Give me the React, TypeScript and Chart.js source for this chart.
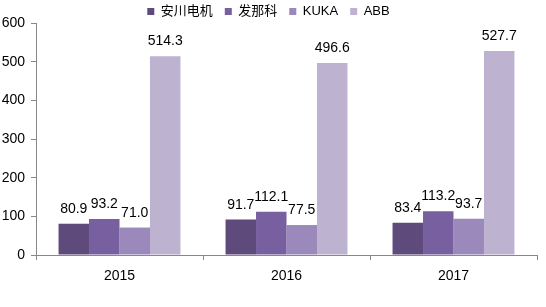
import React, { useEffect, useRef } from "react";
import { Chart, registerables } from "chart.js";

Chart.register(...registerables);

const categories = ["2015", "2016", "2017"];
const seriesNames = ["安川电机", "发那科", "KUKA", "ABB"];
const yaskawa = [80.9, 91.7, 83.4];
const fanuc = [93.2, 112.1, 113.2];
const kuka = [71.0, 77.5, 93.7];
const abb = [514.3, 496.6, 527.7];
const seriesColors = ["#5f4a7c", "#7860a0", "#9a89ba", "#bdb2cf"];
const yTicks = [0, 100, 200, 300, 400, 500, 600];

const FONT = "'Liberation Sans', 'Noto Sans CJK SC', sans-serif";

const labelPlugin = {
  id: "barLabels",
  afterDatasetsDraw(chart: any) {
    const ctx = chart.ctx;
    ctx.save();
    ctx.font = `14px ${FONT}`;
    ctx.fillStyle = "#000";
    ctx.textAlign = "center";
    ctx.textBaseline = "alphabetic";
    chart.data.datasets.forEach((ds: any, di: number) => {
      const meta = chart.getDatasetMeta(di);
      meta.data.forEach((bar: any, i: number) => {
        ctx.fillText(Number(ds.data[i]).toFixed(1), bar.x, bar.y - 11);
      });
    });
    ctx.restore();
  },
};

export default function App() {
  const ref = useRef<HTMLCanvasElement>(null);
  useEffect(() => {
    document.body.style.margin = "0";
    const values = [yaskawa, fanuc, kuka, abb];
    const chart = new Chart(ref.current!, {
      type: "bar",
      data: {
        labels: categories,
        datasets: seriesNames.map((n, i) => ({
          label: n,
          data: values[i],
          backgroundColor: seriesColors[i],
          borderWidth: 0,
          categoryPercentage: 0.73,
          barPercentage: 1,
        })),
      },
      options: {
        animation: false,
        responsive: false,
        maintainAspectRatio: false,
        layout: { padding: { top: -7, right: 9, bottom: 0, left: 0 } },
        plugins: {
          tooltip: { enabled: false },
          legend: {
            position: "top",
            maxHeight: 30,
            labels: {
              boxWidth: 7,
              boxHeight: 7,
              padding: 12,
              color: "#000",
              font: { size: 13, family: FONT },
            },
          },
        },
        scales: {
          x: {
            grid: {
              display: true,
              drawOnChartArea: false,
              tickLength: 5,
              color: "#888",
            },
            border: { color: "#888" },
            ticks: { color: "#000", padding: 8, font: { size: 14, family: FONT } },
            afterFit: (s: any) => {
              s.height = 52;
            },
          },
          y: {
            min: 0,
            max: 600,
            afterBuildTicks: (s: any) => {
              s.ticks = yTicks.map((v) => ({ value: v }));
            },
            grid: {
              display: true,
              drawOnChartArea: false,
              tickLength: 5,
              color: "#888",
            },
            border: { color: "#888" },
            ticks: { color: "#000", padding: 6, font: { size: 14, family: FONT } },
            afterFit: (s: any) => {
              s.width = 36;
            },
          },
        },
      },
      plugins: [labelPlugin],
    });
    return () => chart.destroy();
  }, []);
  return (
    <div style={{ width: 546, height: 307 }}>
      <canvas ref={ref} width={546} height={307} style={{ width: 546, height: 307 }} />
    </div>
  );
}
